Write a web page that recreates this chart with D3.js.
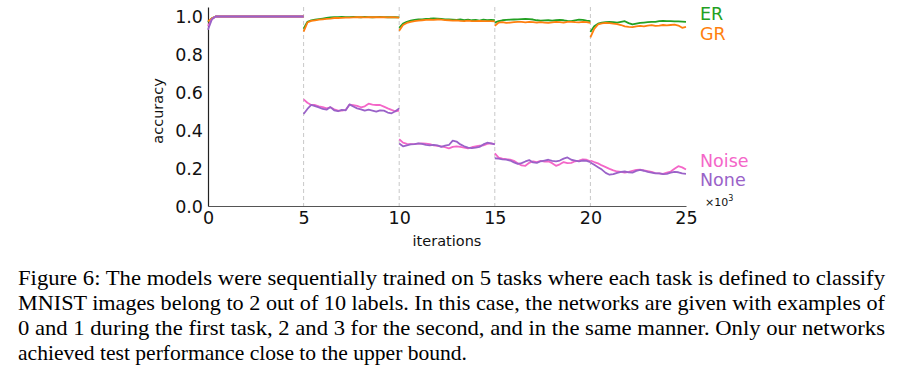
<!DOCTYPE html>
<meta charset="utf-8">
<html>
<head>
<script src="https://d3js.org/d3.v7.min.js" charset="utf-8"></script>
<style type="text/css">
  body { margin: 0; background: #fff; }
  .tick text { font-family: "DejaVu Sans", sans-serif; font-size: 17.5px; fill: #111; }
  .axis-label { font-family: "DejaVu Sans", sans-serif; font-size: 14.5px; fill: #111; }
  .legend { font-family: "DejaVu Sans", sans-serif; font-size: 17.5px; }
  .caption { font-family: "Liberation Serif", "Times New Roman", serif; font-size: 22px; fill: #000; }
</style>
</head>
<body>
<div id="chart"></div>
<script type="text/javascript">
// task boundaries (x10^3 iterations) and sample offsets inside each task
var taskStarts = [0, 5, 10, 15, 20];
var offsets = [0, 0.2, 0.4, 0.6, 0.8, 1.0, 1.2, 1.4, 1.6, 1.8, 2.0, 2.2, 2.4,
               2.6, 2.8, 3.0, 3.2, 3.4, 3.6, 3.8, 4.0, 4.2, 4.4, 4.6, 4.8, 5.0];

var xTicks = [0, 5, 10, 15, 20, 25];
var yTicks = [0.0, 0.2, 0.4, 0.6, 0.8, 1.0];

// accuracy per task, one row per task
var er = [
  [0.970, 0.990, 1.000, 1.000, 1.000, 1.000, 1.000, 1.000, 1.000, 1.000, 1.000, 1.000, 1.000, 1.000, 1.000, 1.000, 1.000, 1.000, 1.000, 1.000, 1.000, 1.000, 1.000, 1.000, 1.000, 1.000],
  [0.935, 0.972, 0.980, 0.983, 0.986, 0.989, 0.992, 0.995, 0.997, 0.996, 0.998, 0.997, 0.997, 0.998, 0.997, 0.996, 0.998, 0.997, 0.996, 0.997, 0.998, 0.997, 0.996, 0.997, 0.996, 0.995],
  [0.940, 0.962, 0.972, 0.978, 0.982, 0.984, 0.985, 0.987, 0.988, 0.990, 0.989, 0.987, 0.985, 0.984, 0.983, 0.982, 0.984, 0.981, 0.983, 0.980, 0.982, 0.978, 0.983, 0.981, 0.982, 0.980],
  [0.968, 0.976, 0.980, 0.982, 0.983, 0.984, 0.985, 0.986, 0.987, 0.986, 0.984, 0.980, 0.978, 0.979, 0.980, 0.978, 0.980, 0.982, 0.980, 0.977, 0.975, 0.980, 0.983, 0.982, 0.978, 0.975],
  [0.918, 0.948, 0.962, 0.968, 0.970, 0.972, 0.970, 0.968, 0.972, 0.975, 0.965, 0.958, 0.962, 0.966, 0.968, 0.970, 0.972, 0.972, 0.975, 0.977, 0.976, 0.975, 0.974, 0.974, 0.973, 0.972]
];
var gr = [
  [0.975, 0.990, 1.000, 1.000, 1.000, 1.000, 1.000, 1.000, 1.000, 1.000, 1.000, 1.000, 1.000, 1.000, 1.000, 1.000, 1.000, 1.000, 1.000, 1.000, 1.000, 1.000, 1.000, 1.000, 1.000, 1.000],
  [0.920, 0.968, 0.977, 0.980, 0.983, 0.985, 0.987, 0.989, 0.992, 0.992, 0.993, 0.994, 0.994, 0.995, 0.996, 0.996, 0.995, 0.996, 0.997, 0.996, 0.997, 0.996, 0.995, 0.996, 0.995, 0.994],
  [0.925, 0.955, 0.966, 0.972, 0.976, 0.978, 0.980, 0.982, 0.983, 0.982, 0.984, 0.983, 0.981, 0.980, 0.978, 0.979, 0.977, 0.976, 0.978, 0.976, 0.975, 0.977, 0.975, 0.976, 0.975, 0.974],
  [0.950, 0.968, 0.970, 0.966, 0.968, 0.970, 0.972, 0.971, 0.969, 0.972, 0.970, 0.968, 0.970, 0.968, 0.966, 0.969, 0.971, 0.970, 0.968, 0.971, 0.972, 0.970, 0.969, 0.971, 0.970, 0.966],
  [0.890, 0.935, 0.958, 0.964, 0.966, 0.965, 0.962, 0.960, 0.955, 0.948, 0.945, 0.944, 0.948, 0.950, 0.948, 0.952, 0.954, 0.950, 0.952, 0.955, 0.953, 0.955, 0.957, 0.952, 0.940, 0.945]
];
var noise = [
  [0.950, 0.985, 1.000, 1.000, 1.000, 1.000, 1.000, 1.000, 1.000, 1.000, 1.000, 1.000, 1.000, 1.000, 1.000, 1.000, 1.000, 1.000, 1.000, 1.000, 1.000, 1.000, 1.000, 1.000, 1.000, 1.000],
  [0.563, 0.545, 0.533, 0.533, 0.526, 0.522, 0.515, 0.521, 0.510, 0.503, 0.503, 0.507, 0.535, 0.532, 0.528, 0.521, 0.526, 0.540, 0.535, 0.533, 0.533, 0.524, 0.515, 0.507, 0.500, 0.503],
  [0.352, 0.334, 0.328, 0.327, 0.327, 0.329, 0.330, 0.329, 0.327, 0.320, 0.317, 0.315, 0.310, 0.304, 0.312, 0.315, 0.312, 0.308, 0.304, 0.310, 0.315, 0.318, 0.320, 0.328, 0.330, 0.327],
  [0.278, 0.255, 0.250, 0.247, 0.245, 0.238, 0.226, 0.214, 0.212, 0.228, 0.236, 0.232, 0.238, 0.234, 0.236, 0.226, 0.212, 0.220, 0.232, 0.226, 0.228, 0.236, 0.240, 0.246, 0.244, 0.236],
  [0.240, 0.232, 0.225, 0.214, 0.205, 0.196, 0.188, 0.182, 0.180, 0.176, 0.180, 0.185, 0.190, 0.192, 0.188, 0.184, 0.180, 0.174, 0.172, 0.170, 0.176, 0.182, 0.196, 0.210, 0.204, 0.193]
];
var none = [
  [0.930, 0.985, 1.000, 1.000, 1.000, 1.000, 1.000, 1.000, 1.000, 1.000, 1.000, 1.000, 1.000, 1.000, 1.000, 1.000, 1.000, 1.000, 1.000, 1.000, 1.000, 1.000, 1.000, 1.000, 1.000, 1.000],
  [0.485, 0.512, 0.533, 0.527, 0.520, 0.512, 0.508, 0.522, 0.505, 0.500, 0.507, 0.505, 0.536, 0.525, 0.515, 0.510, 0.503, 0.508, 0.503, 0.498, 0.505, 0.503, 0.493, 0.489, 0.500, 0.515],
  [0.330, 0.315, 0.320, 0.325, 0.327, 0.330, 0.328, 0.322, 0.320, 0.322, 0.320, 0.312, 0.318, 0.322, 0.345, 0.340, 0.325, 0.315, 0.308, 0.305, 0.308, 0.312, 0.325, 0.334, 0.330, 0.325],
  [0.252, 0.250, 0.246, 0.245, 0.240, 0.230, 0.222, 0.226, 0.235, 0.242, 0.230, 0.228, 0.236, 0.240, 0.244, 0.238, 0.236, 0.240, 0.250, 0.256, 0.244, 0.240, 0.236, 0.240, 0.238, 0.232],
  [0.230, 0.218, 0.205, 0.192, 0.175, 0.165, 0.168, 0.175, 0.180, 0.182, 0.178, 0.176, 0.185, 0.190, 0.186, 0.180, 0.176, 0.172, 0.172, 0.168, 0.170, 0.176, 0.180, 0.178, 0.172, 0.170]
];

var seriesNames = ["ER", "GR", "Noise", "None"];
var seriesColors = ["#23a023", "#ff7f0e", "#f466c8", "#9a62c8"];
var seriesData = [er, gr, noise, none];

var captionLines = [
  "Figure 6: The models were sequentially trained on 5 tasks where each task is defined to classify",
  "MNIST images belong to 2 out of 10 labels. In this case, the networks are given with examples of",
  "0 and 1 during the first task, 2 and 3 for the second, and in the same manner. Only our networks",
  "achieved test performance close to the upper bound."
];

var canvas_width = 902;
var canvas_height = 374;

var svg = d3.select("#chart")
    .append("svg")
    .attr("width", canvas_width)
    .attr("height", canvas_height);

var xScale = d3.scaleLinear().domain([0, 25]).range([208, 686]);
var yScale = d3.scaleLinear().domain([0, 1.05]).range([206, 7]);

// dashed task boundaries
svg.selectAll("line.boundary")
    .data(taskStarts.slice(1))
    .enter()
    .append("line")
    .attr("class", "boundary")
    .attr("x1", function(d) { return xScale(d); })
    .attr("x2", function(d) { return xScale(d); })
    .attr("y1", yScale(1.05))
    .attr("y2", yScale(0))
    .attr("stroke", "#c8c8c8")
    .attr("stroke-width", 1)
    .attr("stroke-dasharray", "4,3");

// axes (no tick marks, spines only on left and bottom)
var xAxis = d3.axisBottom(xScale).tickValues(xTicks).tickSize(0).tickPadding(6)
    .tickFormat(d3.format("d"));
var yAxis = d3.axisLeft(yScale).tickValues(yTicks).tickSize(0).tickPadding(5)
    .tickFormat(d3.format(".1f"));

var gx = svg.append("g")
    .attr("class", "x axis")
    .attr("transform", "translate(0," + yScale(0) + ")")
    .call(xAxis);
gx.select(".domain").attr("stroke", "#555").attr("stroke-width", 1.2);

var gy = svg.append("g")
    .attr("class", "y axis")
    .attr("transform", "translate(" + xScale(0) + ",0)")
    .call(yAxis);
gy.select(".domain").attr("stroke", "#222").attr("stroke-width", 1.2);
gy.selectAll(".tick text").attr("dy", "0.36em");

// lines, one path per series per task
var line = d3.line()
    .x(function(d) { return xScale(d[0]); })
    .y(function(d) { return yScale(d[1]); });

seriesData.forEach(function(series, s) {
    series.forEach(function(values, t) {
        var pts = values.map(function(v, i) { return [taskStarts[t] + offsets[i], v]; });
        svg.append("path")
            .datum(pts)
            .attr("fill", "none")
            .attr("stroke", seriesColors[s])
            .attr("stroke-width", 1.8)
            .attr("stroke-linejoin", "round")
            .attr("d", line);
    });
});

// legend labels at the right
var legendY = [20, 40, 167, 186];
svg.selectAll("text.legend")
    .data(seriesNames)
    .enter()
    .append("text")
    .attr("class", "legend")
    .attr("x", 700)
    .attr("y", function(d, i) { return legendY[i]; })
    .attr("fill", function(d, i) { return seriesColors[i]; })
    .text(function(d) { return d; });

// axis labels
svg.append("text")
    .attr("class", "axis-label")
    .attr("text-anchor", "middle")
    .attr("x", 447)
    .attr("y", 246)
    .text("iterations");

svg.append("text")
    .attr("class", "axis-label")
    .attr("text-anchor", "middle")
    .attr("transform", "translate(163,111)rotate(-90)")
    .text("accuracy");

var mult = svg.append("text")
    .attr("class", "axis-label")
    .attr("x", 705)
    .attr("y", 206)
    .style("font-size", "11px");
mult.append("tspan").text("\u00d710");
mult.append("tspan").attr("dy", -5).style("font-size", "8px").text("3");

// caption
var captionWidths = [867, 867, 867, 449];
svg.selectAll("text.caption")
    .data(captionLines)
    .enter()
    .append("text")
    .attr("class", "caption")
    .attr("x", 18)
    .attr("y", function(d, i) { return 285 + i * 25; })
    .attr("textLength", function(d, i) { return captionWidths[i]; })
    .attr("lengthAdjust", "spacingAndGlyphs")
    .text(function(d) { return d; });
</script>
</body>
</html>
